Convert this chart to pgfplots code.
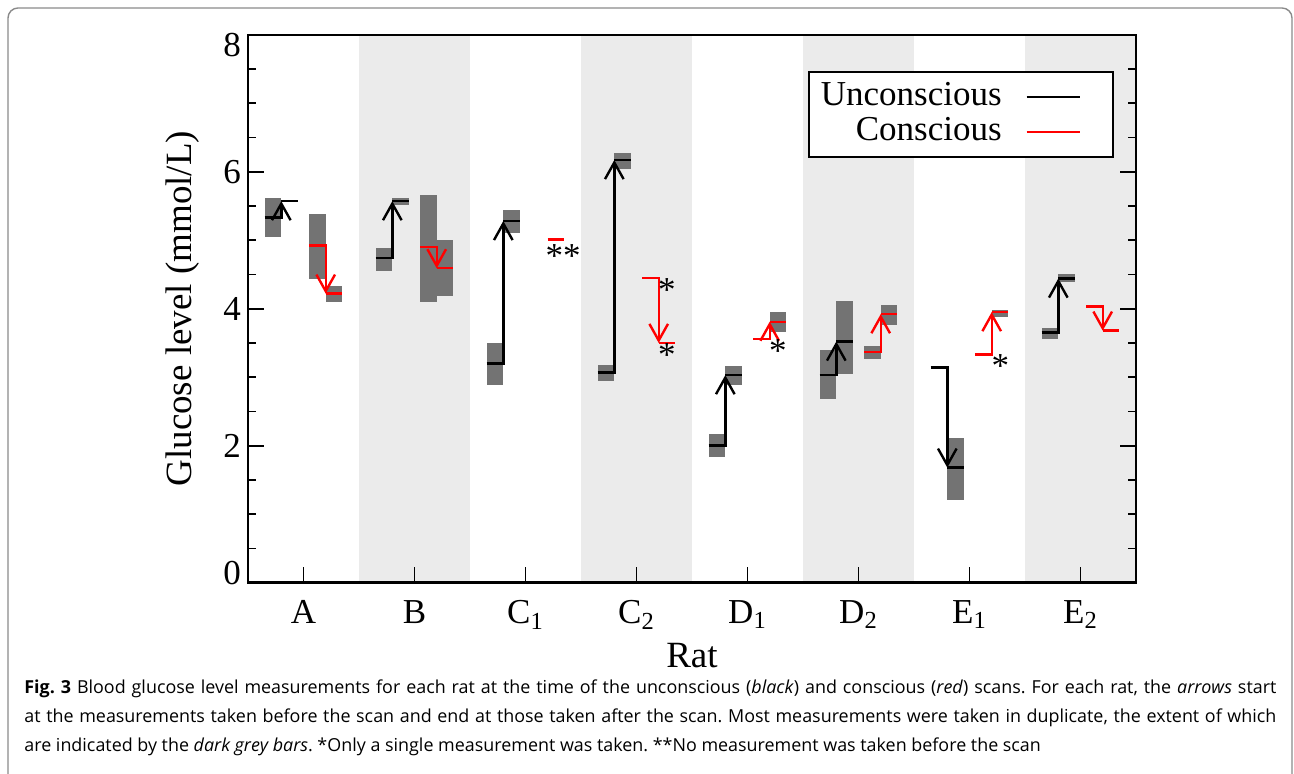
\documentclass[border=0pt]{standalone}
\usepackage{fontspec}
\setmainfont{Liberation Serif}
\newfontfamily\capfont{Open Sans}
\usepackage{pgfplots}
\pgfplotsset{compat=1.18}
\usetikzlibrary{arrows.meta}

\definecolor{band}{HTML}{EBEBEB}
\definecolor{dup}{HTML}{737373}
\definecolor{framegrey}{HTML}{8A8A8A}

\pgfplotsset{
  dup/.style={fill=dup, draw=none, forget plot},
  unc/.style={black, line width=1.2pt, forget plot},
  con/.style={red, line width=1.2pt, forget plot},
  arr/.style={-{Straight Barb[length=8.3pt, width=9.3pt]}},
}

\newcommand{\chartfont}{\fontsize{17.5}{17.5}\selectfont}

\begin{document}
\frenchspacing
\begin{tikzpicture}
\path[use as bounding box] (0,0) rectangle (647pt,387pt);
\draw[framegrey, line width=0.7pt, rounded corners=5pt]
  (4pt,-6pt) -- (4pt,383pt) -- (646pt,383pt) -- (646pt,-6pt);

\begin{axis}[
  at={(124pt,95.65pt)}, anchor=south west,
  scale only axis, width=444pt, height=274pt,
  xmin=-0.5, xmax=7.5, ymin=0, ymax=8,
  axis on top, axis line style={line width=1pt},
  xtick={0,...,7},
  xticklabels={A,B,C\textsubscript{1},C\textsubscript{2},D\textsubscript{1},D\textsubscript{2},E\textsubscript{1},E\textsubscript{2}},
  xtick pos=bottom, ytick pos=both,
  ytick={0,2,4,6,8}, minor y tick num=3,
  yticklabels={\raisebox{5pt}[\height][\depth]{0},2,4,6,\raisebox{-5pt}[\height][\depth]{8}},
  tick style={line width=0.9pt, black},
  major tick length=8pt, minor tick length=4pt,
  ticklabel style={font=\chartfont},
  xticklabel style={yshift=-5.5pt},
  xlabel={Rat}, ylabel={Glucose level (mmol/L)},
  label style={font=\fontsize{18.5}{18.5}\selectfont},
  xlabel style={at={(axis description cs:0.5,0)}, anchor=center, yshift=-36.6pt},
  ylabel style={at={(axis description cs:0,0.5)}, anchor=center, yshift=32.5pt},
  legend plot pos=right,
  legend cell align=right,
  legend image code/.code={\draw[#1] (9.5pt,0pt) -- (36.2pt,0pt);
    \pgfpathrectangle{\pgfpointorigin}{\pgfpoint{49.8pt}{0.1pt}}\pgfusepath{}},
  legend style={at={(axis description cs:0.9756,0.934)}, anchor=north east,
    draw=black, line width=1pt, font=\chartfont, inner xsep=3pt, inner ysep=4pt,
    nodes={inner xsep=3pt, inner ysep=1pt, text height=11.9pt, text depth=3.45pt}},
]
% alternating background bands
\addplot[fill=band, draw=none, forget plot] coordinates {(0.5,0) (1.5,0) (1.5,8) (0.5,8)};
\addplot[fill=band, draw=none, forget plot] coordinates {(2.5,0) (3.5,0) (3.5,8) (2.5,8)};
\addplot[fill=band, draw=none, forget plot] coordinates {(4.5,0) (5.5,0) (5.5,8) (4.5,8)};
\addplot[fill=band, draw=none, forget plot] coordinates {(6.5,0) (7.5,0) (7.5,8) (6.5,8)};

% duplicate ranges (dark grey bars)
\addplot[dup] coordinates {(-0.35,5.05) (-0.2,5.05) (-0.2,5.61) (-0.35,5.61)};
\addplot[dup] coordinates {(0.05,4.44) (0.2,4.44) (0.2,5.38) (0.05,5.38)};
\addplot[dup] coordinates {(0.2,4.10) (0.35,4.10) (0.35,4.33) (0.2,4.33)};
\addplot[dup] coordinates {(0.65,4.55) (0.8,4.55) (0.8,4.88) (0.65,4.88)};
\addplot[dup] coordinates {(0.8,5.51) (0.95,5.51) (0.95,5.62) (0.8,5.62)};
\addplot[dup] coordinates {(1.05,4.10) (1.2,4.10) (1.2,5.66) (1.05,5.66)};
\addplot[dup] coordinates {(1.2,4.18) (1.35,4.18) (1.35,5.00) (1.2,5.00)};
\addplot[dup] coordinates {(1.65,2.89) (1.8,2.89) (1.8,3.50) (1.65,3.50)};
\addplot[dup] coordinates {(1.8,5.11) (1.95,5.11) (1.95,5.44) (1.8,5.44)};
\addplot[dup] coordinates {(2.65,2.95) (2.8,2.95) (2.8,3.18) (2.65,3.18)};
\addplot[dup] coordinates {(2.8,6.04) (2.95,6.04) (2.95,6.27) (2.8,6.27)};
\addplot[dup] coordinates {(3.65,1.84) (3.8,1.84) (3.8,2.17) (3.65,2.17)};
\addplot[dup] coordinates {(3.8,2.89) (3.95,2.89) (3.95,3.16) (3.8,3.16)};
\addplot[dup] coordinates {(4.2,3.66) (4.35,3.66) (4.35,3.95) (4.2,3.95)};
\addplot[dup] coordinates {(4.65,2.68) (4.8,2.68) (4.8,3.40) (4.65,3.40)};
\addplot[dup] coordinates {(4.8,3.05) (4.95,3.05) (4.95,4.11) (4.8,4.11)};
\addplot[dup] coordinates {(5.05,3.27) (5.2,3.27) (5.2,3.45) (5.05,3.45)};
\addplot[dup] coordinates {(5.2,3.76) (5.35,3.76) (5.35,4.05) (5.2,4.05)};
\addplot[dup] coordinates {(5.8,1.21) (5.95,1.21) (5.95,2.11) (5.8,2.11)};
\addplot[dup] coordinates {(6.2,3.88) (6.35,3.88) (6.35,3.98) (6.2,3.98)};
\addplot[dup] coordinates {(6.65,3.56) (6.8,3.56) (6.8,3.72) (6.65,3.72)};
\addplot[dup] coordinates {(6.8,4.39) (6.95,4.39) (6.95,4.50) (6.8,4.50)};

% before -> after, unconscious (black) and conscious (red)
% A
\addplot[unc,arr] coordinates {(-0.35,5.33) (-0.2,5.33) (-0.2,5.57)};
\addplot[unc] coordinates {(-0.2,5.57) (-0.05,5.57)};
\addplot[con,arr] coordinates {(0.05,4.92) (0.2,4.92) (0.2,4.22)};
\addplot[con] coordinates {(0.2,4.22) (0.35,4.22)};
% B
\addplot[unc,arr] coordinates {(0.65,4.74) (0.8,4.74) (0.8,5.57)};
\addplot[unc] coordinates {(0.8,5.57) (0.95,5.57)};
\addplot[con,arr] coordinates {(1.05,4.90) (1.2,4.90) (1.2,4.59)};
\addplot[con] coordinates {(1.2,4.59) (1.35,4.59)};
% C1
\addplot[unc,arr] coordinates {(1.65,3.20) (1.8,3.20) (1.8,5.28)};
\addplot[unc] coordinates {(1.8,5.28) (1.95,5.28)};
\addplot[con] coordinates {(2.2,5.01) (2.35,5.01)};
% C2
\addplot[unc,arr] coordinates {(2.65,3.07) (2.8,3.07) (2.8,6.17)};
\addplot[unc] coordinates {(2.8,6.17) (2.95,6.17)};
\addplot[con,arr] coordinates {(3.05,4.45) (3.2,4.45) (3.2,3.50)};
\addplot[con] coordinates {(3.2,3.50) (3.35,3.50)};
% D1
\addplot[unc,arr] coordinates {(3.65,2.00) (3.8,2.00) (3.8,3.03)};
\addplot[unc] coordinates {(3.8,3.03) (3.95,3.03)};
\addplot[con,arr] coordinates {(4.05,3.56) (4.2,3.56) (4.2,3.81)};
\addplot[con] coordinates {(4.2,3.81) (4.35,3.81)};
% D2
\addplot[unc,arr] coordinates {(4.65,3.03) (4.8,3.03) (4.8,3.52)};
\addplot[unc] coordinates {(4.8,3.52) (4.95,3.52)};
\addplot[con,arr] coordinates {(5.05,3.37) (5.2,3.37) (5.2,3.92)};
\addplot[con] coordinates {(5.2,3.92) (5.35,3.92)};
% E1
\addplot[unc,arr] coordinates {(5.65,3.14) (5.8,3.14) (5.8,1.68)};
\addplot[unc] coordinates {(5.8,1.68) (5.95,1.68)};
\addplot[con,arr] coordinates {(6.05,3.33) (6.2,3.33) (6.2,3.95)};
\addplot[con] coordinates {(6.2,3.95) (6.35,3.95)};
% E2
\addplot[unc,arr] coordinates {(6.65,3.65) (6.8,3.65) (6.8,4.44)};
\addplot[unc] coordinates {(6.8,4.44) (6.95,4.44)};
\addplot[con,arr] coordinates {(7.05,4.03) (7.2,4.03) (7.2,3.68)};
\addplot[con] coordinates {(7.2,3.68) (7.35,3.68)};

\addlegendimage{black, line width=1.2pt}
\addlegendentry{Unconscious}
\addlegendimage{red, line width=1.2pt}
\addlegendentry{Conscious}

% single (*) and missing (**) measurements
\node[font=\chartfont, yshift=-2.8pt] at (axis cs:2.34,4.85) {**};
\node[font=\chartfont, yshift=-2.8pt] at (axis cs:3.273,4.35) {*};
\node[font=\chartfont, yshift=-2.8pt] at (axis cs:3.273,3.40) {*};
\node[font=\chartfont, yshift=-2.8pt] at (axis cs:4.273,3.47) {*};
\node[font=\chartfont, yshift=-2.8pt] at (axis cs:6.277,3.24) {*};
\end{axis}
% heavier bottom axis line
\draw[line width=1.5pt] (124pt,95.65pt) -- (568pt,95.65pt);

\begin{scope}[every node/.style={anchor=base west, inner sep=0pt, font=\capfont\fontsize{8.95}{10}\selectfont}]
\node at (12pt,40pt) {\makebox[626pt][s]{\textbf{Fig. 3} Blood glucose level measurements for each rat at the time of the unconscious (\textit{black}) and conscious (\textit{red}) scans. For each rat, the \textit{arrows} start}};
\node at (12pt,25.5pt) {\makebox[626pt][s]{at the measurements taken before the scan and end at those taken after the scan. Most measurements were taken in duplicate, the extent of which}};
\node at (12pt,11pt) {are indicated by the \textit{dark grey bars}. *Only a single measurement was taken. **No measurement was taken before the scan};
\end{scope}
\end{tikzpicture}
\end{document}
